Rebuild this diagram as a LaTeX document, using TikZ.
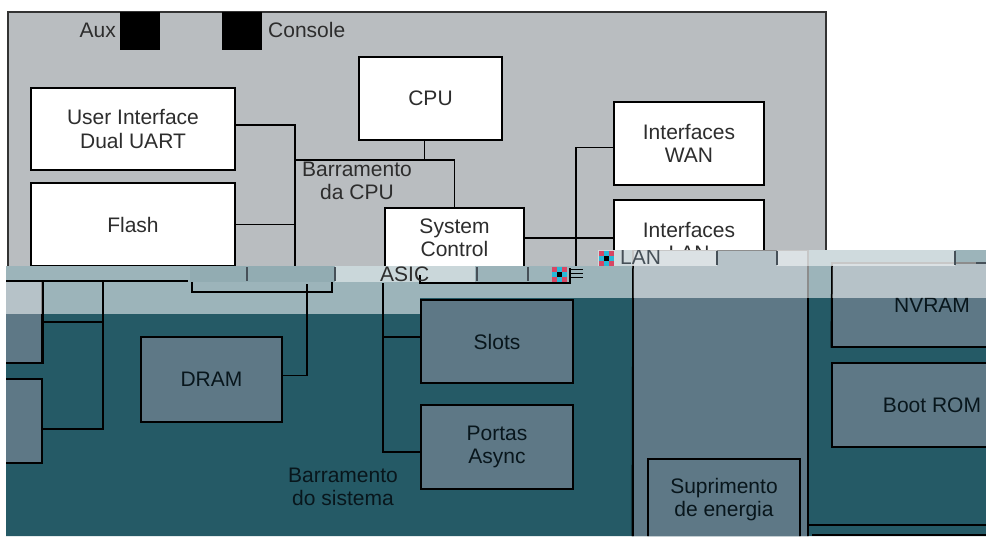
\documentclass[tikz,border=0pt]{standalone}
\usepackage{fontspec}
\setmainfont{Liberation Sans}
\definecolor{panelgray}{RGB}{185,189,192}
\definecolor{dteal}{RGB}{37,90,102}
\definecolor{mteal}{RGB}{94,120,134}
\definecolor{txtgray}{RGB}{45,45,45}
\definecolor{txtdark}{RGB}{8,22,28}
\definecolor{pixred}{RGB}{215,70,100}
\definecolor{pixcyan}{RGB}{40,185,215}
\definecolor{tickgray}{RGB}{70,80,88}
\tikzset{
  lblfont/.style={font=\fontsize{21}{23.5}\selectfont},
  wbox/.style={draw=black, line width=1.3pt, fill=white, text=txtgray, align=center, inner sep=0pt, lblfont},
  tbox/.style={draw=black, line width=1.5pt, fill=mteal, text=txtdark, align=center, inner sep=0pt, lblfont},
  dbox/.style={draw=black, line width=1.5pt, fill=dteal, inner sep=0pt},
  sqbox/.style={fill=black, draw=none, inner sep=0pt},
  lbl/.style={align=center, inner sep=0pt, lblfont},
  wire/.style={draw=black, line width=1.5pt},
  tickline/.style={draw=tickgray, line width=1.5pt},
  veil/.style={fill=white, opacity=#1},
}
\begin{document}
\begin{tikzpicture}[x=1pt,y=-1pt]
\useasboundingbox (0,0) rectangle (986,538);
\fill[white] (0,0) rectangle (986,538);

% ---------- upper panel ----------
\draw[fill=panelgray, draw=black!80, line width=1.5pt] (8,280) -- (8,12) -- (826,12) -- (826,280);

\node[sqbox, minimum width=40pt, minimum height=38pt] (auxsq) at (140,31) {};
\node[sqbox, minimum width=40pt, minimum height=38pt] (consq) at (242,31) {};
\node[lbl, anchor=east, text=txtgray] (auxl) at (116,30) {Aux};
\node[lbl, anchor=west, text=txtgray] (conl) at (268,30) {Console};

\node[wbox, minimum width=143pt, minimum height=83pt] (cpu) at (430.5,98.5) {CPU};
\node[wbox, minimum width=204pt, minimum height=82pt] (ui) at (133,129) {User Interface\\Dual UART};
\node[wbox, minimum width=204pt, minimum height=83pt] (flash) at (133,224.5) {Flash};
\node[wbox, minimum width=139pt, minimum height=60pt] (sc) at (454.5,238) {System\\Control};
\node[wbox, minimum width=150pt, minimum height=83pt] (wan) at (689,143.5) {Interfaces\\WAN};
\node[wbox, minimum width=150pt, minimum height=83pt] (lan) at (689,241.5) {Interfaces\\LAN};

\node[lbl, text=txtgray] (cpubuslbl) at (357,181) {Barramento\\da CPU};

\coordinate (cpubusL) at (295,160);
\coordinate (cpubusB) at (295,266);
\coordinate (wanbusB) at (576,266);
\draw[wire] ([yshift=4pt]ui.east) -| (cpubusB);
\draw[wire] (flash.east) -- (flash.east -| cpubusB);
\draw[wire] (cpubusL) -- (sc.north |- cpubusL) -- (sc.north);
\draw[wire] ([xshift=-6pt]cpu.south) -- ([xshift=-6pt]cpu.south |- cpubusL);
\draw[wire] ([yshift=-4pt]wan.west) -| (wanbusB);
\draw[wire] (sc.east) -- (sc.east -| lan.west);

% ---------- lower (teal) part ----------
\begin{scope}
\clip (6,266) -- (598,266) -- (598,250) -- (986,250) -- (986,536) -- (6,536) -- cycle;
\fill[dteal] (0,240) rectangle (986,540);

\node[tbox, minimum width=175pt, minimum height=310pt] (col3) at (720.5,405) {};
\node[dbox, minimum width=232pt, minimum height=285pt] (rbig) at (924,382.5) {};
\node[tbox, minimum width=200pt, minimum height=84pt] (nv) at (932,305) {NVRAM};
\node[tbox, minimum width=200pt, minimum height=84pt] (boot) at (932,405) {Boot ROM};
\node[tbox, minimum width=152pt, minimum height=81pt] (supr) at (724,499.5) {Suprimento\\de energia};
\node[tbox, minimum width=152pt, minimum height=83pt] (slots) at (497,341.5) {Slots};
\node[tbox, minimum width=152pt, minimum height=84pt] (portas) at (497,447) {Portas\\Async};
\node[tbox, minimum width=141pt, minimum height=85pt] (dram) at (211.5,379.5) {DRAM};
\node[tbox, minimum width=62pt, minimum height=82pt] (b1) at (11,322) {};
\node[tbox, minimum width=62pt, minimum height=84pt] (b2) at (11,421) {};
\node[lbl, text=txtdark] (sysbuslbl) at (343,487) {Barramento\\do sistema};

\coordinate (lowA) at (812,535);
\coordinate (lowB) at (990,535);
\draw[wire] (lowA) -- (lowB);

% translucent band
\fill[veil=.55] (6,266) rectangle (190,314);
\fill[veil=.50] (190,266) rectangle (335,282);
\fill[veil=.55] (190,282) rectangle (335,314);
\fill[veil=.76] (335,266) rectangle (475,282);
\fill[veil=.55] (335,282) rectangle (420,314);
\fill[veil=.55] (420,282) rectangle (475,298);
\fill[veil=.55] (475,266) rectangle (598,298);
\fill[veil=.55] (598,266) rectangle (986,298);
\fill[veil=.78] (598,250) rectangle (717,266);
\fill[veil=.55] (717,250) rectangle (777,266);
\fill[veil=.78] (777,250) rectangle (955,266);
\fill[veil=.55] (955,250) rectangle (986,266);

% lines on top of the band
\coordinate (sbusL) at (6,281);
\coordinate (sbusR) at (188,281);
\coordinate (lbus) at (103,281);
\coordinate (dbus) at (307,284);
\coordinate (sysbus) at (383,283);
\coordinate (c3top) at (633,266);
\coordinate (nvtop) at (832,266);
\draw[wire] (sbusL) -- (sbusR);
\draw[wire] (b1.north east) -- (b1.south east);
\draw[wire] (b1.east) -- (b1.east -| lbus);
\draw[wire] (lbus) |- ([yshift=-8pt]b2.east);
\draw[wire] ([yshift=4pt]dram.east) -| (dbus);
\draw[wire] (sysbus) |- ([yshift=-5pt]portas.west);
\draw[wire] ([yshift=4.5pt]slots.west) -- ([yshift=4.5pt]slots.west -| sysbus);
\draw[wire] (c3top) -- (col3.south west);
\draw[wire] (nvtop) -- (nv.south west);

% brackets and ticks
\draw[wire] (192,282) -- (192,292) -- (332,292) -- (332,282);
\draw[wire] (420,275) -- (420,283) -- (570,283) -- (570,268);
\draw[tickline] (247,267) -- (247,281);
\draw[tickline] (335,267) -- (335,281);
\draw[tickline] (477,267) -- (477,281);
\draw[tickline] (528,267) -- (528,281);
\draw[tickline] (717,251) -- (717,265);
\draw[tickline] (777,251) -- (777,265);
\draw[tickline] (955,251) -- (955,265);
\draw[tickline] (976,263) -- (986,263);
\foreach \yy in {269,273,277} { \draw[black, line width=1pt] (571,\yy) -- (583,\yy); }

% pixel icons
\foreach \i/\j/\c in {0/0/pixred,1/0/pixcyan,2/0/pixred,0/1/pixcyan,1/1/black,2/1/pixcyan,0/2/pixred,1/2/pixcyan,2/2/pixred}{
  \fill[\c] (599+\i*5,251+\j*5) rectangle ++(5,5);
  \fill[\c] (552+\i*5,267+\j*5) rectangle ++(5,5);
}

\node[lbl, anchor=west, text=txtgray] (asic) at (380,274) {ASIC};
\node[lbl, anchor=west, text=tickgray] (langhost) at (620,257) {LAN};
\end{scope}
\end{tikzpicture}
\end{document}
